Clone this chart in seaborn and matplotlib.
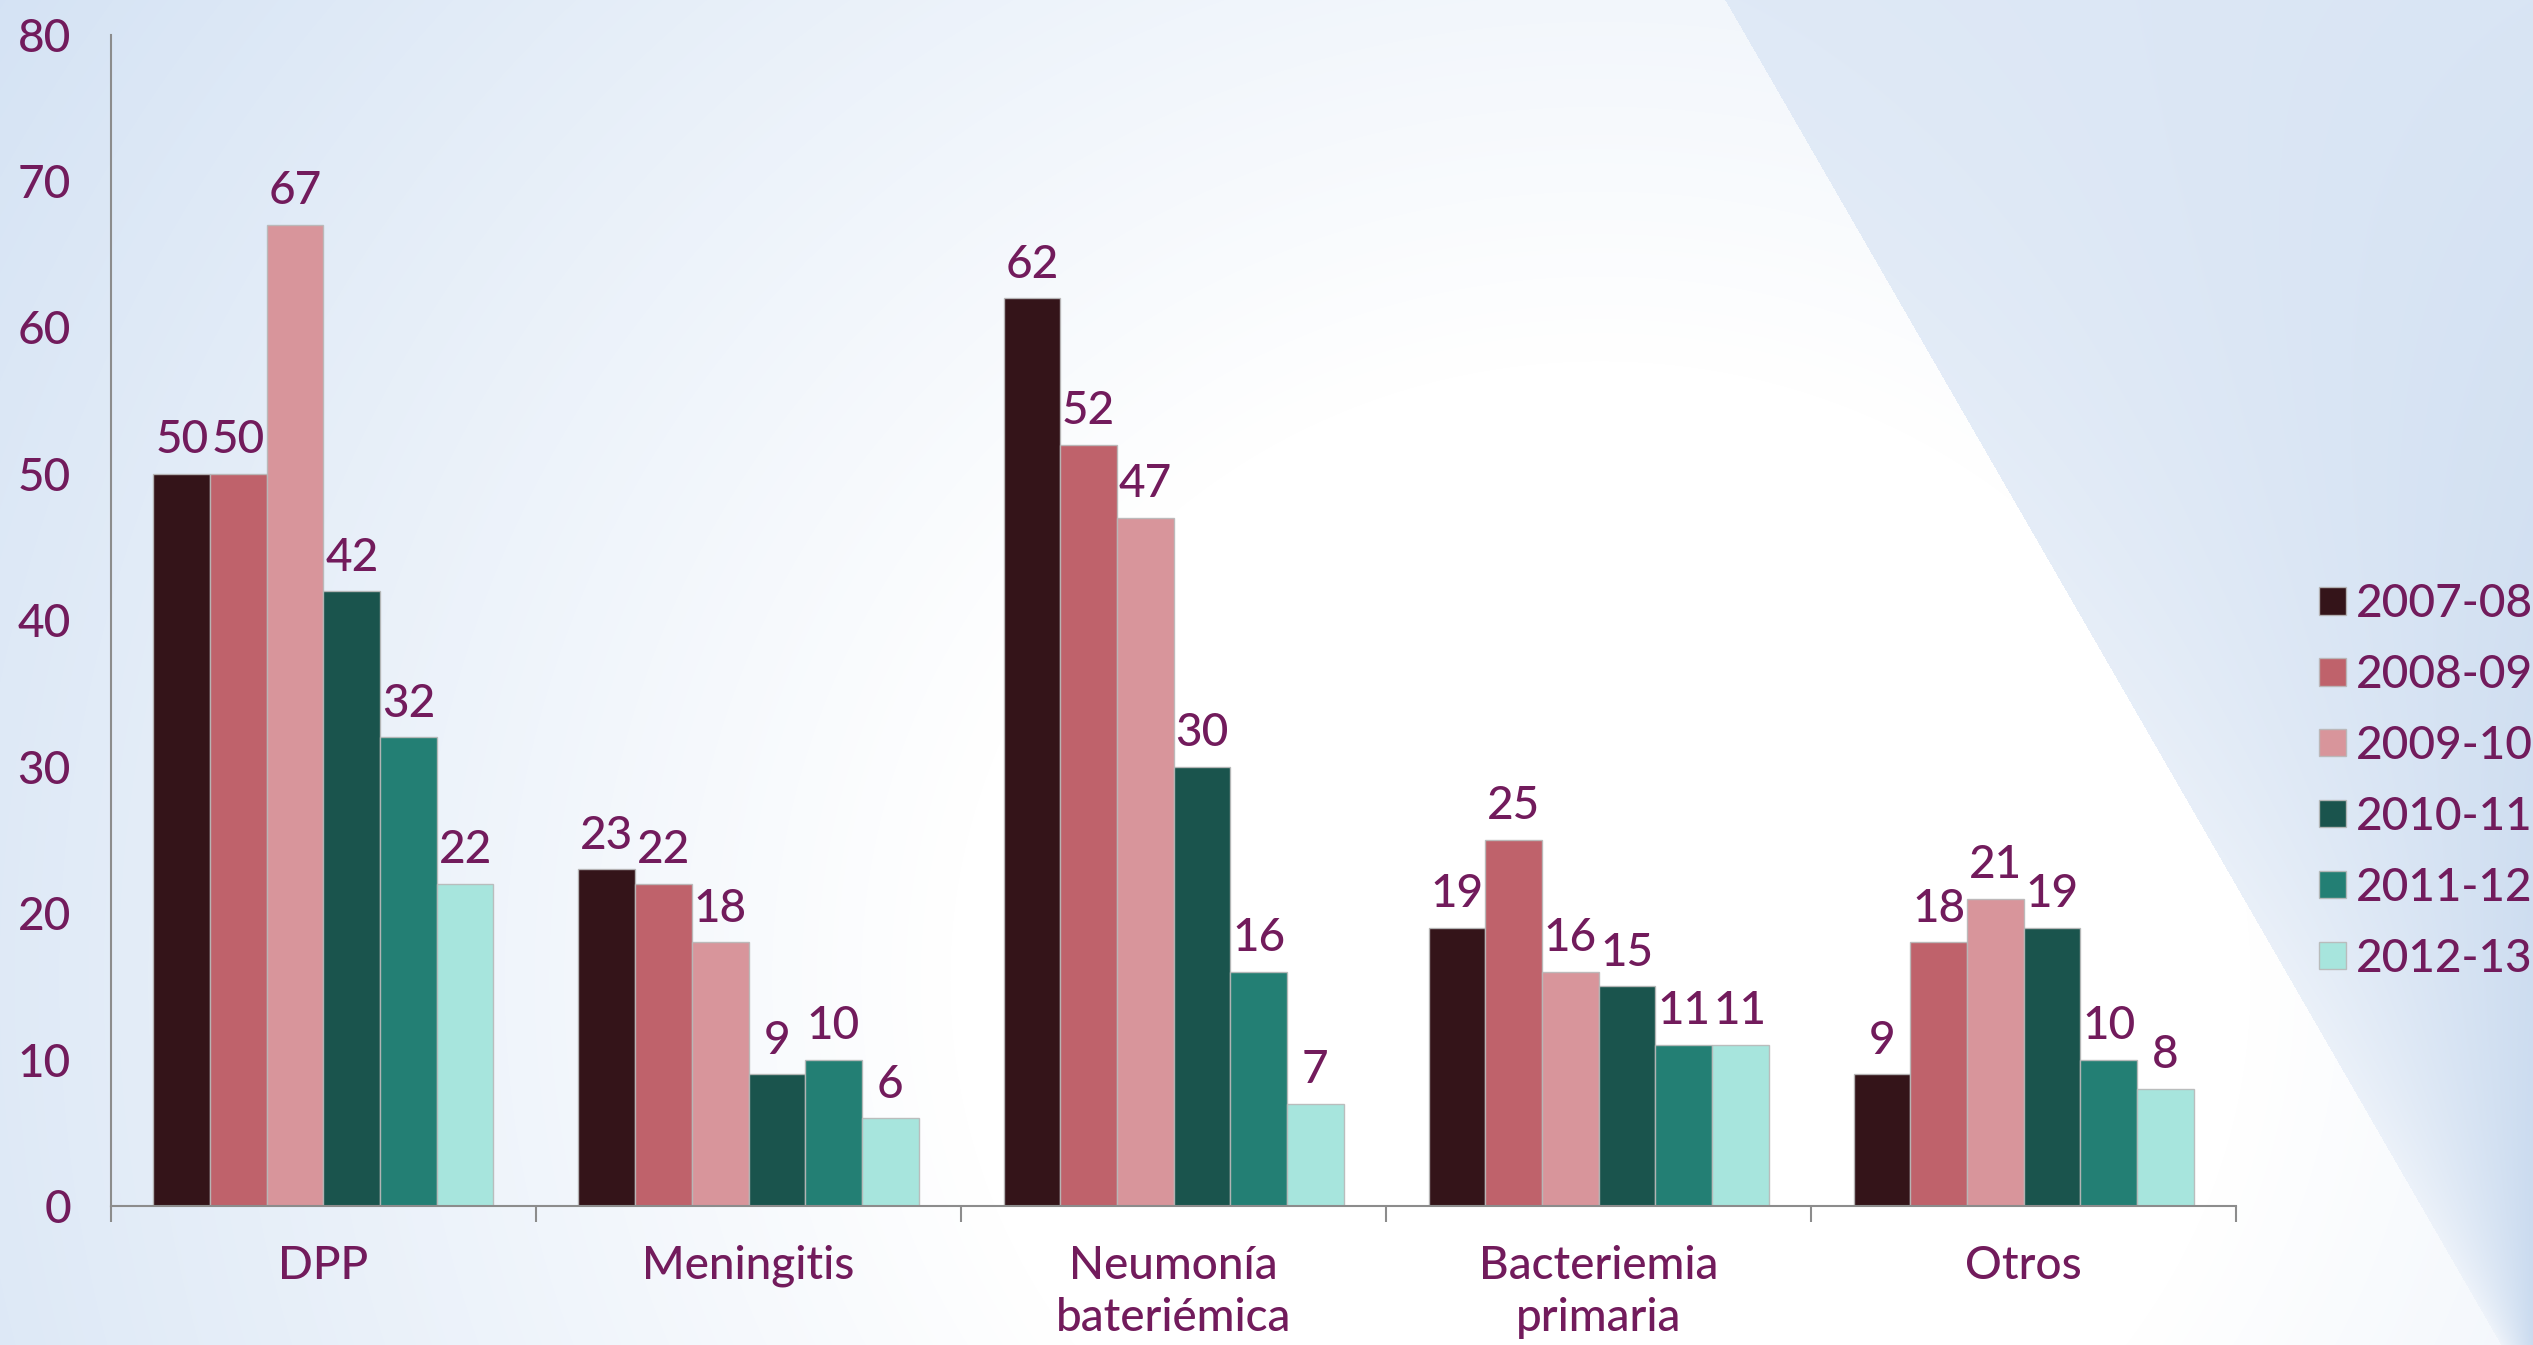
import numpy as np
import pandas as pd
import matplotlib
matplotlib.use("Agg")
import matplotlib.pyplot as plt
import seaborn as sns
from matplotlib.ticker import FixedLocator

# ---- data -------------------------------------------------------------
categories = ["DPP", "Meningitis", "Neumonía\nbateriémica",
              "Bacteriemia\nprimaria", "Otros"]
seasons = ["2007-08", "2008-09", "2009-10", "2010-11", "2011-12", "2012-13"]

s2007_08 = [50, 23, 62, 19, 9]
s2008_09 = [50, 22, 52, 25, 18]
s2009_10 = [67, 18, 47, 16, 21]
s2010_11 = [42, 9, 30, 15, 19]
s2011_12 = [32, 10, 16, 11, 10]
s2012_13 = [22, 6, 7, 11, 8]

y_ticks = [0, 10, 20, 30, 40, 50, 60, 70, 80]

series = [s2007_08, s2008_09, s2009_10, s2010_11, s2011_12, s2012_13]
df = pd.DataFrame(
    [(cat, season, vals[i])
     for season, vals in zip(seasons, series)
     for i, cat in enumerate(categories)],
    columns=["categoria", "temporada", "casos"],
)

# ---- style ------------------------------------------------------------
palette = ["#341419", "#BF626B", "#D8959B", "#1A544D", "#237F74", "#A7E5DD"]
TEXT = "#721B5C"
AXIS = "#8C8C8C"
FS = 33

sns.set_theme(style="white")
plt.rcParams["font.family"] = ["Lato", "DejaVu Sans"]
plt.rcParams["font.weight"] = "medium"

W, H = 2533, 1345
fig = plt.figure(figsize=(W / 100, H / 100), dpi=100)

# ---- slide background: radial glow on the left, tinted band on the right
yy, xx = np.mgrid[0:H, 0:W].astype(float)
white = np.array([1.0, 1.0, 1.0])
blue = np.array([0.835, 0.890, 0.957])
d = np.hypot((xx - 1600) * 1.0, (yy - 980) * 1.05)
t = np.clip((d - 650) / (1900 - 650), 0, 1)[..., None]
bg = white * (1 - t) + blue * t

x_diag = 1725 + 0.577 * yy
right = xx >= x_diag
s = np.clip((xx - x_diag) / np.maximum(W - x_diag, 1), 0, 1)
v = yy / H
c_tl = np.array([0.875, 0.914, 0.965])   # near diagonal, top
c_bl = np.array([0.933, 0.953, 0.980])   # near diagonal, bottom
c_tr = np.array([0.851, 0.898, 0.957])   # far right, top
c_br = np.array([0.788, 0.855, 0.937])   # far right, bottom
s3, v3 = s[..., None], v[..., None]
band = (c_tl * (1 - s3) * (1 - v3) + c_bl * (1 - s3) * v3
        + c_tr * s3 * (1 - v3) + c_br * s3 * v3)
bg[right] = band[right]

bg_ax = fig.add_axes([0, 0, 1, 1], zorder=-1)
bg_ax.imshow(bg, aspect="auto", interpolation="bilinear")
bg_ax.set_axis_off()

# ---- bars -------------------------------------------------------------
ax = fig.add_axes([0.0438, 0.1033, 0.8390, 0.8710])
ax.set_facecolor("none")
sns.barplot(
    data=df, x="categoria", y="casos", hue="temporada",
    order=categories, hue_order=seasons, palette=palette,
    saturation=1, width=0.8, errorbar=None,
    edgecolor=(0.72, 0.72, 0.72, 0.9), linewidth=1.0, ax=ax,
)

for container in ax.containers:
    ax.bar_label(container, fmt="%d", padding=9, fontsize=FS, color=TEXT)

ax.set_xlim(-0.5, len(categories) - 0.5)
ax.set_ylim(0, 80)
ax.set_xlabel("")
ax.set_ylabel("")

ax.set_yticks(y_ticks)
ax.tick_params(axis="y", length=10.8, width=1.5, color=AXIS, pad=18,
               labelsize=FS, labelcolor=TEXT)
ax.tick_params(axis="x", which="major", length=0, pad=28,
               labelsize=FS, labelcolor=TEXT)
ax.xaxis.set_minor_locator(FixedLocator(np.arange(-0.5, len(categories), 1.0)))
ax.tick_params(axis="x", which="minor", length=11.5, width=1.5, color=AXIS,
               bottom=True)
for lbl in ax.get_xticklabels():
    lbl.set_linespacing(1.3)

for side in ("top", "right"):
    ax.spines[side].set_visible(False)
for side in ("left", "bottom"):
    ax.spines[side].set_color(AXIS)
    ax.spines[side].set_linewidth(1.5)

# ---- legend -----------------------------------------------------------
handles, labels = ax.get_legend_handles_labels()
ax.get_legend().remove()
fig.legend(handles, labels, loc="center left", bbox_to_anchor=(0.9155, 0.419),
           frameon=False, fontsize=FS, handlelength=0.59, handleheight=0.54,
           handletextpad=0.22, labelspacing=0.63, borderpad=0,
           borderaxespad=0, labelcolor=TEXT)

fig.savefig("out.png", dpi=100)
